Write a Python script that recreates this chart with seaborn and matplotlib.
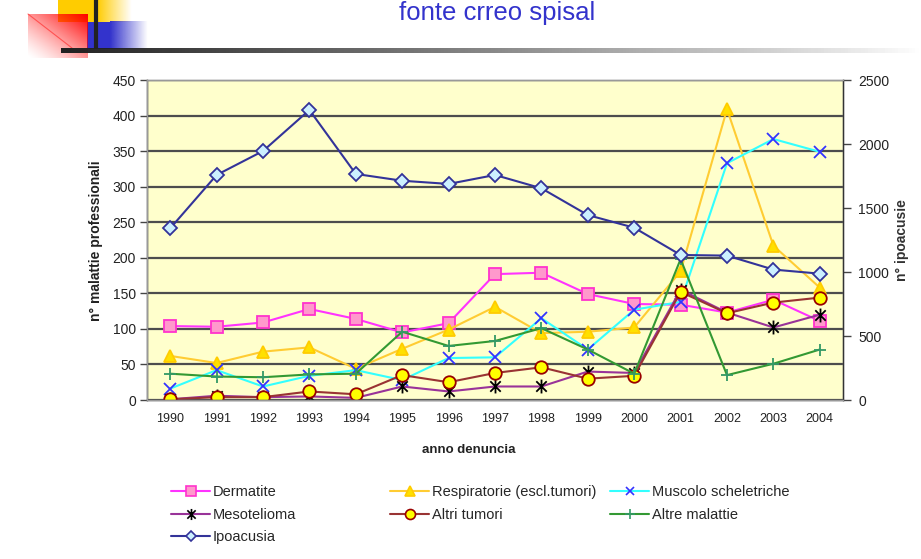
import matplotlib
matplotlib.use("Agg")
import matplotlib.pyplot as plt
from matplotlib.lines import Line2D
from matplotlib.path import Path
import numpy as np
import pandas as pd
import seaborn as sns

# data
anni = list(range(1990, 2005))
dermatite = [104, 103, 109, 128, 114, 95, 108, 177, 179, 149, 135, 134, 123, 141, 111]
respiratorie = [62, 52, 68, 74, 44, 72, 99, 131, 94, 96, 102, 181, 409, 217, 158]
muscolo = [16, 42, 19, 34, 42, 28, 59, 60, 115, 71, 127, 138, 333, 367, 349]
mesotelioma = [1, 6, 4, 5, 3, 19, 12, 19, 19, 40, 38, 155, 123, 102, 120]
altri_tumori = [1, 4, 4, 12, 8, 35, 25, 38, 46, 30, 34, 152, 122, 137, 144]
altre_malattie = [37, 33, 32, 36, 37, 96, 76, 83, 101, 71, 37, 198, 35, 51, 71]
ipoacusia = [1341, 1758, 1945, 2266, 1766, 1713, 1688, 1758, 1654, 1445, 1346, 1133, 1128, 1019, 987]

df = pd.DataFrame({"anno": anni, "Dermatite": dermatite,
                   "Respiratorie (escl.tumori)": respiratorie,
                   "Muscolo scheletriche": muscolo, "Mesotelioma": mesotelioma,
                   "Altri tumori": altri_tumori, "Altre malattie": altre_malattie,
                   "Ipoacusia": ipoacusia})

sns.set_style("white")
plt.rcParams["font.family"] = ["Liberation Sans", "DejaVu Sans"]

# asterisk like Excel's: vertical bar plus an x
asterisco = Path([(0, -1), (0, 1), (-0.75, -0.75), (0.75, 0.75), (-0.75, 0.75), (0.75, -0.75)],
                 [Path.MOVETO, Path.LINETO, Path.MOVETO, Path.LINETO, Path.MOVETO, Path.LINETO])

# series style: line colour, marker, size, face, edge
stili = {
    "Dermatite": ("#FF33FF", "s", 8.5, "#FF99CC", "#FF33CC"),
    "Respiratorie (escl.tumori)": ("#FFCC33", "^", 9, "#FFE000", "#FFCC00"),
    "Muscolo scheletriche": ("#33FFFF", "x", 8, "#3333FF", "#3333FF"),
    "Mesotelioma": ("#993399", asterisco, 10, "none", "black"),
    "Altri tumori": ("#993333", "o", 9, "#FFFF00", "#990000"),
    "Altre malattie": ("#339933", "+", 9, "#339966", "#339966"),
    "Ipoacusia": ("#333399", "D", 7, "#CCF0FF", "#333399"),
}

fig = plt.figure(figsize=(9.21, 5.59), dpi=100)
ax = fig.add_axes([147 / 921, 1 - 400 / 559, 696 / 921, 320 / 559])
ax.set_facecolor("#FFFFCC")
ax2 = ax.twinx()

handles = {}
for nome, (col, mk, ms, fc, ec) in stili.items():
    target = ax2 if nome == "Ipoacusia" else ax
    sns.lineplot(data=df, x="anno", y=nome, ax=target, color=col, lw=1.5,
                 marker=mk, markersize=ms, markerfacecolor=fc,
                 markeredgecolor=ec, markeredgewidth=1.3, legend=False)
    handles[nome] = Line2D([], [], color=col, lw=1.5, marker=mk,
                           markersize=ms * 0.8, markerfacecolor=fc,
                           markeredgecolor=ec, markeredgewidth=1.2)

ax.set_xlim(1989.5, 2004.5)
ax.set_ylim(0, 450)
ax2.set_ylim(0, 2500)
ax.set_yticks(range(0, 451, 50))
ax2.set_yticks(range(0, 2501, 500))
ax.set_xticks(anni)
ax.set_xticks(np.arange(1989.5, 2005, 1), minor=True)
ax.yaxis.grid(True, color="#4d4d4d", lw=1.6)
ax.set_axisbelow(True)

ax.tick_params(axis="x", which="major", length=0, labelsize=9, pad=9, labelcolor="#222222")
ax.tick_params(axis="x", which="minor", length=5, width=1, color="#444444", direction="out")
ax.tick_params(axis="y", length=5, width=1, color="#444444", direction="out",
               labelsize=10, pad=3, labelcolor="#222222")
ax2.tick_params(axis="y", length=6, width=1, color="#444444", direction="out",
                labelsize=10, pad=5, labelcolor="#222222")

for a in (ax, ax2):
    for s in a.spines.values():
        s.set_color("#999999")
        s.set_linewidth(1)
ax2.spines["right"].set_color("#333333")
ax.spines["left"].set_color("#333333")
ax.spines["bottom"].set_color("#333333")

ax.set_xlabel("")
ax.set_ylabel("")
ax2.set_ylabel("")
fig.text(96 / 921, 1 - 241 / 559, "n° malattie professionali", rotation=90,
         ha="center", va="center", fontsize=10, fontweight="bold", color="#222222")
fig.text(902 / 921, 1 - 240 / 559, "n° ipoacusie", rotation=90,
         ha="center", va="center", fontsize=10, fontweight="bold", color="#333333")
fig.text(469 / 921, 1 - 450 / 559, "anno denuncia", ha="center", va="center",
         fontsize=9.5, fontweight="bold", color="#222222")

# legend: three columns placed separately
colonne = [(171, ["Dermatite", "Mesotelioma", "Ipoacusia"]),
           (390, ["Respiratorie (escl.tumori)", "Altri tumori"]),
           (610, ["Muscolo scheletriche", "Altre malattie"])]
for x0, nomi in colonne:
    fig.legend([handles[n] for n in nomi], nomi, loc="upper left",
               bbox_to_anchor=(x0 / 921, 1 - 485 / 559), frameon=False,
               fontsize=10.5, handlelength=2.7, handletextpad=0.15,
               labelspacing=0.6, borderaxespad=0, borderpad=0)

# header decoration and title
hd = fig.add_axes([0, 1 - 70 / 559, 1, 70 / 559])
hd.axis("off")
hd.add_patch(plt.Rectangle((58, 0), 39, 22, color="#FFCC00", lw=0))
grad = np.linspace(0, 1, 64)[None, :]
yel = np.ones((1, 64, 4)); yel[..., 1] = 0.8; yel[..., 2] = 0; yel[..., 3] = 1 - grad
hd.imshow(yel, extent=(97, 132, 22, 0), aspect="auto", zorder=1)
hd.add_patch(plt.Rectangle((87, 22), 23, 27, color="#3333CC", lw=0, zorder=2))
blu = np.ones((1, 64, 4)); blu[..., 0] = 0.2; blu[..., 1] = 0.2; blu[..., 2] = 0.8; blu[..., 3] = 1 - grad
hd.imshow(blu, extent=(110, 148, 49, 21), aspect="auto", zorder=2)
gx, gy = np.meshgrid(np.linspace(0, 1, 60), np.linspace(0, 1, 45))
rosso = np.ones((45, 60, 4)); rosso[..., 1] = 0; rosso[..., 2] = 0
rosso[..., 3] = np.clip((gx + (1 - gy)) / 2, 0, 1) ** 1.3
hd.imshow(rosso, extent=(28, 87, 58, 14), aspect="auto", zorder=3)
hd.plot([28, 72], [14, 48], color="#FF3333", lw=0.8, alpha=0.7, zorder=4)
hd.plot([96, 96], [0, 49], color="#222222", lw=3, zorder=5, solid_capstyle="butt")
bar = np.ones((1, 256, 4)); bar[..., :3] = 0.13
bar[..., 3] = np.linspace(1, 0, 256) ** 0.9
hd.imshow(bar, extent=(61, 921, 53, 48), aspect="auto", zorder=5)
hd.set_xlim(0, 921)
hd.set_ylim(70, 0)
hd.text(497, 13, "fonte crreo spisal", ha="center", va="center",
        fontsize=18.5, color="#3333CC")

fig.savefig("out.png", dpi=100)
